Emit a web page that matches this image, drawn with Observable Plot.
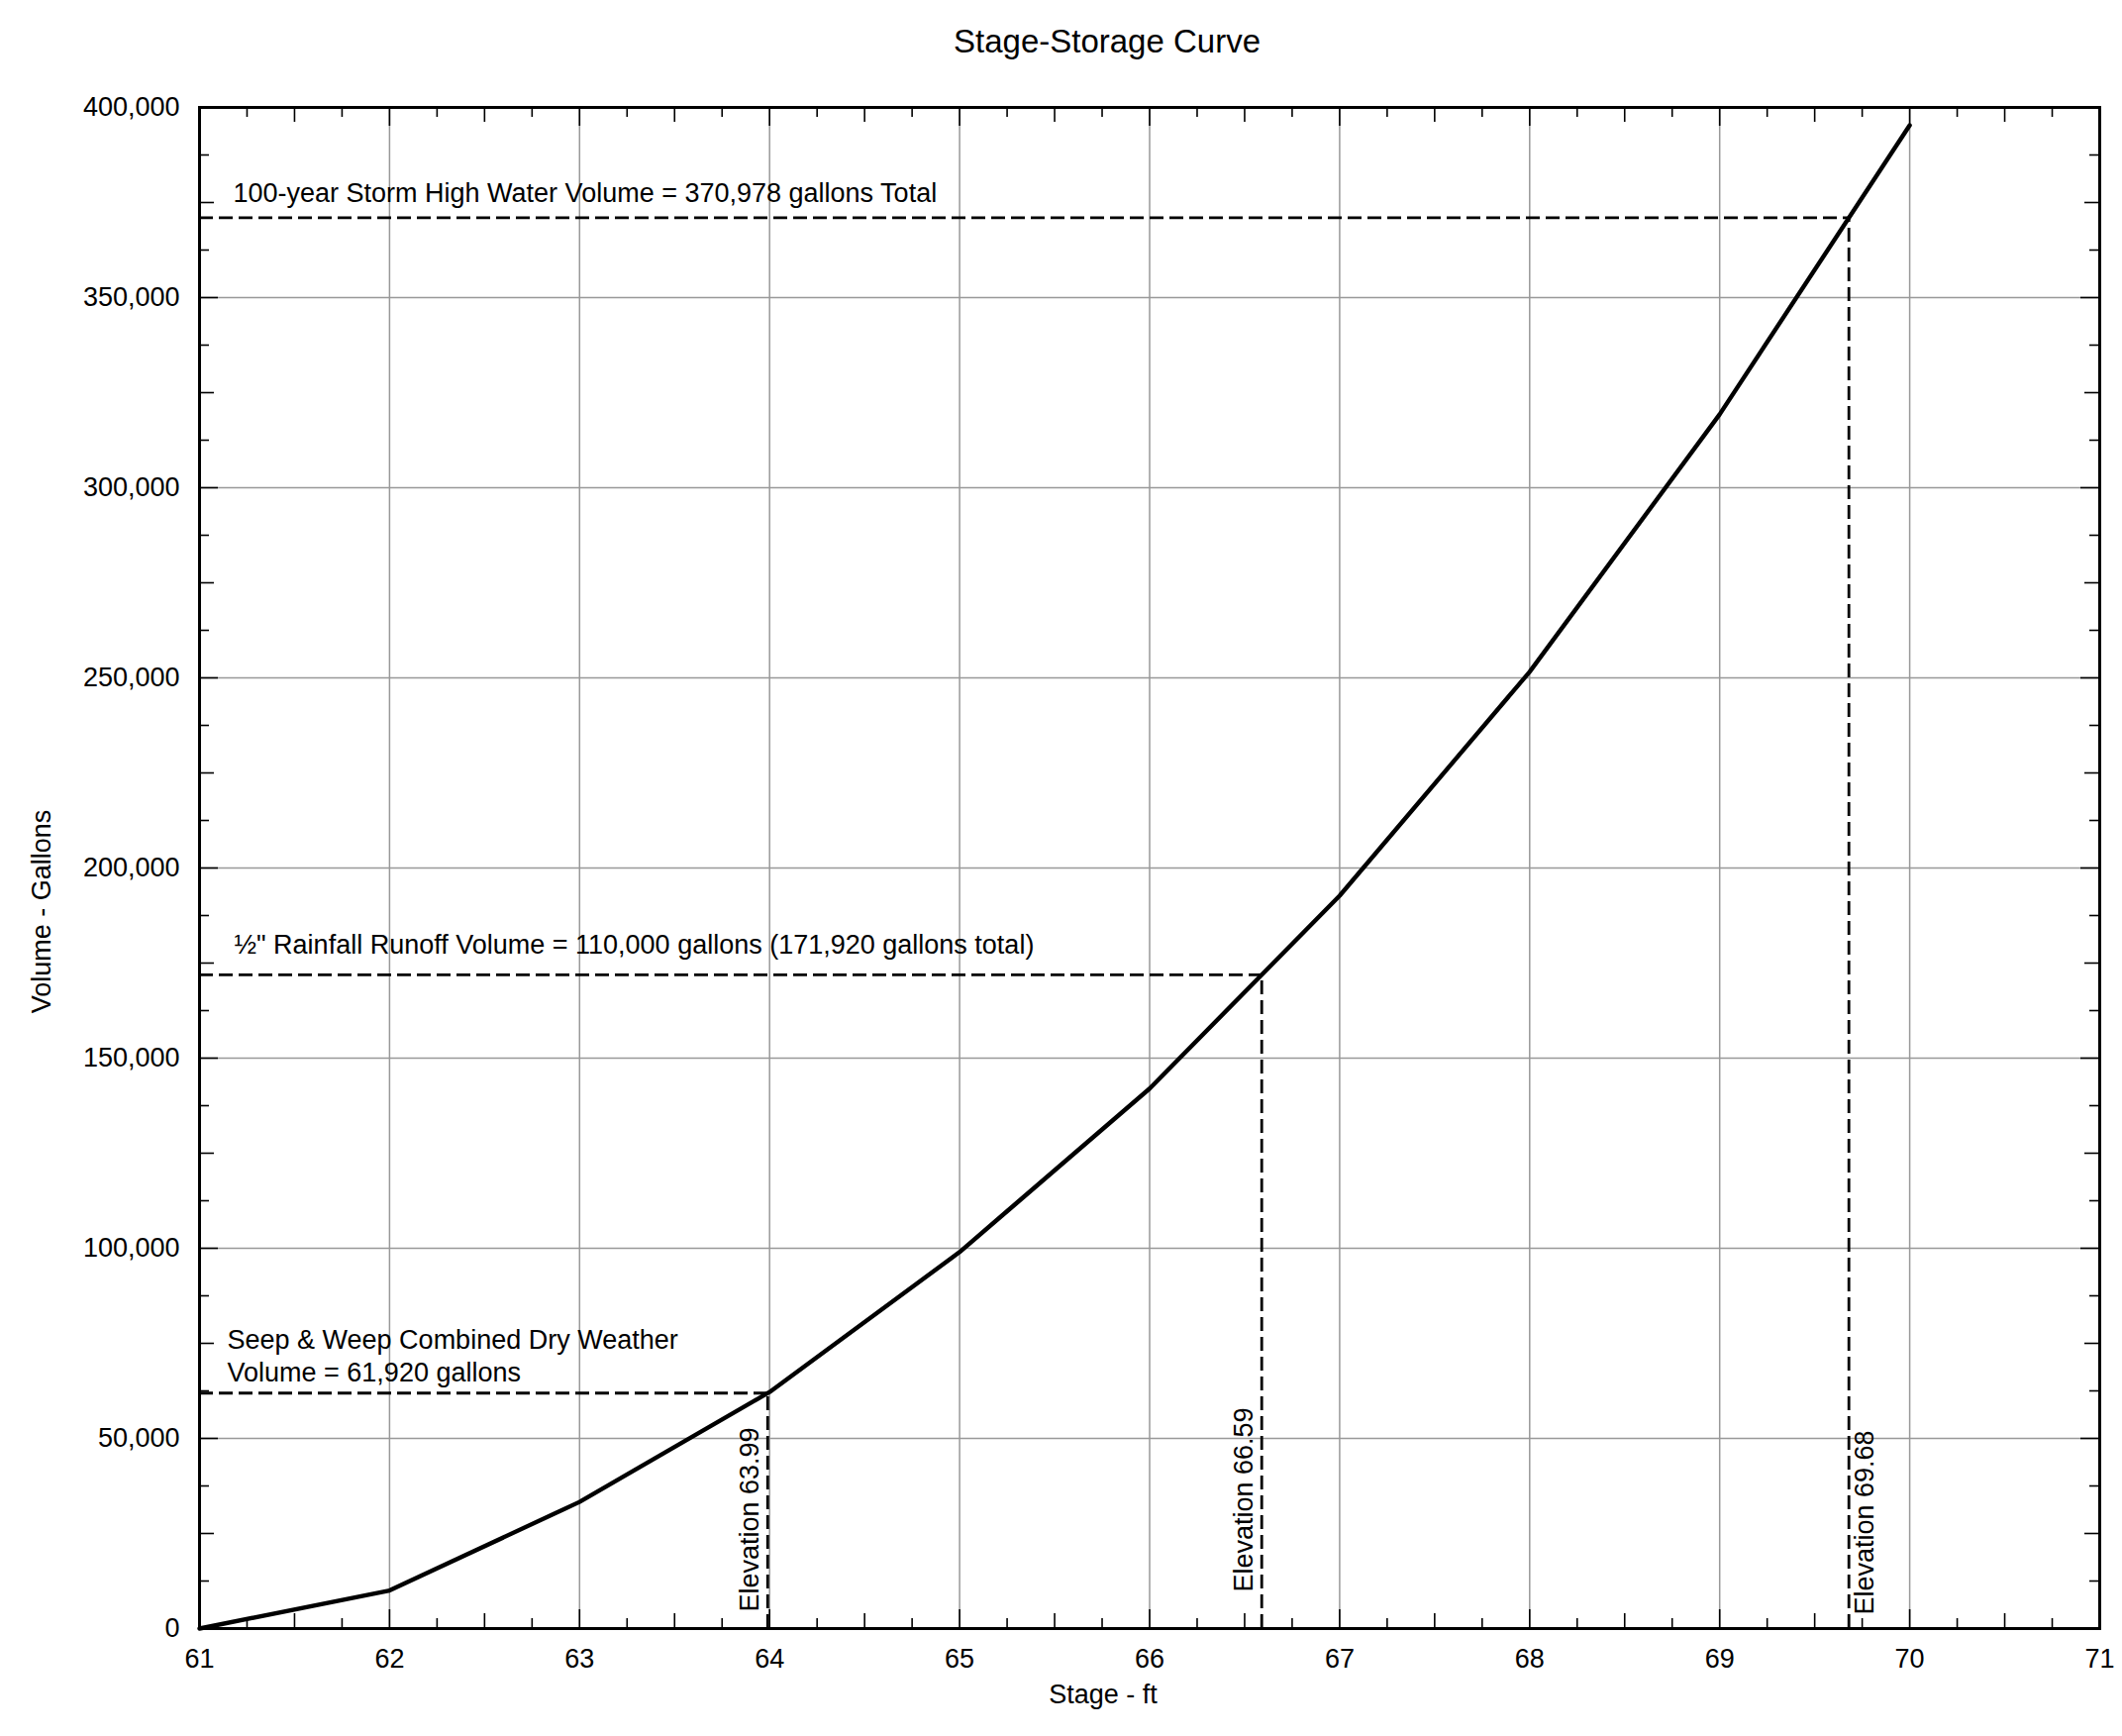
<!DOCTYPE html>
<html>
<head>
<meta charset="utf-8">
<script src="https://cdn.jsdelivr.net/npm/d3@7"></script>
<script src="https://cdn.jsdelivr.net/npm/@observablehq/plot@0.6"></script>
<style>
  html, body { margin: 0; padding: 0; background: #fff; overflow: hidden; }
  svg { display: block; }
</style>
</head>
<body>
<div id="chart"></div>
<script>
// ---------- data ----------
const stage = [61, 62, 63, 64, 65, 66, 67, 68, 69, 70];
const volume = [0, 10000, 33300, 62200, 99000, 142000, 192700, 251600, 319300, 395300];

const markerElevation = [63.99, 66.59, 69.68];
const markerVolume = [61920, 171920, 370978];
const markerNotes = [
  "Seep & Weep Combined Dry Weather\nVolume = 61,920 gallons",
  "\u00BD\" Rainfall Runoff Volume = 110,000 gallons (171,920 gallons total)",
  "100-year Storm High Water Volume = 370,978 gallons Total"
];
const elevationLabels = ["Elevation 63.99", "Elevation 66.59", "Elevation 69.68"];

const xTicks = [61, 62, 63, 64, 65, 66, 67, 68, 69, 70, 71];
const yTicks = [0, 50000, 100000, 150000, 200000, 250000, 300000, 350000, 400000];

const titleText = "Stage-Storage Curve";
const xLabel = "Stage - ft";
const yLabel = "Volume - Gallons";

// ---------- layout ----------
const W = 2143, H = 1753;
const mL = 201, mR = 23, mT = 108, mB = 109;
const innerW = W - mL - mR, innerH = H - mT - mB;
const FONT = "'Liberation Sans', Arial, Helvetica, sans-serif";
const FS_TICK = 27;
const FS = 27;

const xDomain = [xTicks[0], xTicks[xTicks.length - 1]];
const yDomain = [yTicks[0], yTicks[yTicks.length - 1]];

// minor tick values (quarter / half steps)
const xQuarter = d3.range(xDomain[0], xDomain[1], 0.25).filter(v => Math.abs(v % 0.5) > 1e-9);
const xHalf = d3.range(xDomain[0] + 0.5, xDomain[1], 1);
const yStep = yTicks[1] - yTicks[0];
const yQuarter = d3.range(yDomain[0], yDomain[1], yStep / 4).filter(v => v % (yStep / 2) !== 0);
const yHalf = d3.range(yDomain[0] + yStep / 2, yDomain[1], yStep);

const curve = stage.map((s, i) => ({stage: s, volume: volume[i]}));
const idx = d3.range(markerElevation.length);

const tickStyle = {stroke: "black", strokeWidth: 1.6};
function xTickMarks(vals, len) {
  return [
    Plot.tickX(vals, {x: d => d, insetTop: innerH - len, ...tickStyle}),
    Plot.tickX(vals, {x: d => d, insetBottom: innerH - len, ...tickStyle})
  ];
}
function yTickMarks(vals, len) {
  return [
    Plot.tickY(vals, {y: d => d, insetRight: innerW - len, ...tickStyle}),
    Plot.tickY(vals, {y: d => d, insetLeft: innerW - len, ...tickStyle})
  ];
}

const noteDx = [28, 35, 34], noteDy = [-12, -21, -16];
const elevDx = [-18, -18, 16], elevDy = [-17, -37, -14];

const dash = {stroke: "black", strokeWidth: 2.8, strokeDasharray: "14,6"};

const chart = Plot.plot({
  width: W,
  height: H,
  marginLeft: mL, marginRight: mR, marginTop: mT, marginBottom: mB,
  style: {fontFamily: FONT, fontSize: FS + "px", background: "#fff", color: "black"},
  x: {domain: xDomain, axis: null},
  y: {domain: yDomain, axis: null},
  marks: [
    Plot.gridX(xTicks.slice(1, -1), {stroke: "#999", strokeOpacity: 1, strokeWidth: 1.5}),
    Plot.gridY(yTicks.slice(1, -1), {stroke: "#999", strokeOpacity: 1, strokeWidth: 1.5}),
    ...xTickMarks(xQuarter, 10),
    ...xTickMarks(xHalf, 15),
    ...xTickMarks(xTicks, 19),
    ...yTickMarks(yQuarter, 10),
    ...yTickMarks(yHalf, 15),
    ...yTickMarks(yTicks, 19),
    Plot.ruleY(idx, {y: i => markerVolume[i], x1: xDomain[0], x2: i => markerElevation[i], ...dash}),
    Plot.ruleX(idx, {x: i => markerElevation[i], y1: yDomain[0], y2: i => markerVolume[i], ...dash}),
    Plot.line(curve, {x: "stage", y: "volume", stroke: "black", strokeWidth: 4.4, strokeLinejoin: "miter"}),
    Plot.frame({stroke: "black", strokeWidth: 3}),
    Plot.axisX(xTicks, {tickSize: 0, tickPadding: 20, fontSize: FS_TICK, label: null, fill: "black", tickFormat: d3.format("d")}),
    Plot.axisY(yTicks, {tickSize: 0, tickPadding: 20, fontSize: FS_TICK, label: null, fill: "black", tickFormat: d3.format(",")}),
    ...idx.map(i => Plot.text([markerNotes[i]], {
      y: () => markerVolume[i], text: d => d, frameAnchor: "left", textAnchor: "start",
      lineAnchor: "bottom", lineHeight: 1.2, dx: noteDx[i], dy: noteDy[i], fontSize: FS, fill: "black"
    })),
    ...idx.map(i => Plot.text([elevationLabels[i]], {
      x: () => markerElevation[i], text: d => d, frameAnchor: "bottom", textAnchor: "start",
      lineAnchor: "middle", rotate: -90, dx: elevDx[i], dy: elevDy[i], fontSize: FS, fill: "black"
    })),
    Plot.text([titleText], {text: d => d, frameAnchor: "top", textAnchor: "middle", lineAnchor: "middle", dx: -43, dy: -66, fontSize: 33, fill: "black"}),
    Plot.text([xLabel], {text: d => d, frameAnchor: "bottom", textAnchor: "middle", lineAnchor: "middle", dx: -47, dy: 67, fontSize: FS, fill: "black"}),
    Plot.text([yLabel], {text: d => d, frameAnchor: "left", textAnchor: "middle", lineAnchor: "middle", rotate: -90, dx: -159, dy: 44, fontSize: FS, fill: "black"})
  ]
});
document.getElementById("chart").appendChild(chart);
</script>
</body>
</html>
